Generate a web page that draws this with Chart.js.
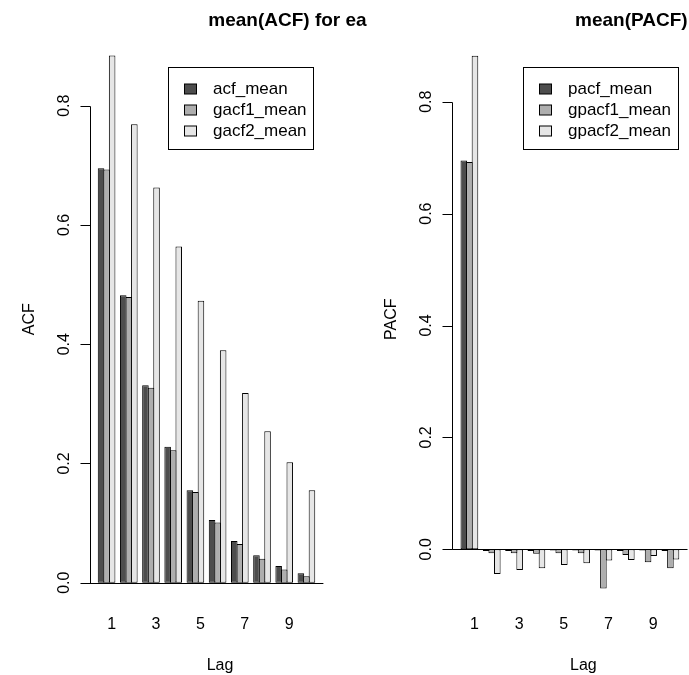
<!DOCTYPE html>
<html>
<head>
<meta charset="utf-8">
<script src="https://cdn.jsdelivr.net/npm/chart.js@4"></script>
<style>
  body { margin: 0; background: #fff; }
  #wrap { position: relative; width: 689px; height: 675px; overflow: hidden; }
  canvas { position: absolute; left: 0; top: 0; }
</style>
</head>
<body>
<div id="wrap">
  <canvas id="acf" width="689" height="675"></canvas>
  <canvas id="pacf" width="689" height="675"></canvas>
</div>
<script>
// lags e rótulos
const lags = [1, 2, 3, 4, 5, 6, 7, 8, 9, 10];
const lagTicks = [1, 3, 5, 7, 9];
const yTicks = [0, 0.2, 0.4, 0.6, 0.8];

// médias da ACF
const acf_mean   = [0.695, 0.482, 0.331, 0.228, 0.155, 0.105, 0.070, 0.046, 0.028, 0.016];
const gacf1_mean = [0.693, 0.479, 0.327, 0.222, 0.152, 0.101, 0.065, 0.040, 0.022, 0.011];
const gacf2_mean = [0.884, 0.769, 0.663, 0.564, 0.473, 0.390, 0.318, 0.254, 0.202, 0.155];

// médias da PACF
const pacf_mean   = [0.695, -0.003, -0.003, -0.003, -0.002, -0.002, -0.002, -0.003, -0.002, -0.003];
const gpacf1_mean = [0.692, -0.007, -0.007, -0.008, -0.007, -0.007, -0.070, -0.010, -0.023, -0.034];
const gpacf2_mean = [0.882, -0.044, -0.037, -0.034, -0.028, -0.025, -0.020, -0.019, -0.012, -0.018];

const cinzas = ['#4D4D4D', '#AEAEAE', '#E6E6E6']; // gray.colors(3) do R
const fonte = '"Liberation Sans", Arial, Helvetica, sans-serif';

// barplot do R: 3 barras de largura 1 + espaço 1 por lag
const centroGrupo = lag => 4 * lag - 1.5;
const posRotulo = lag => 4 * lag - 0.6;

// desenha eixos, títulos e legenda no estilo do R
const estiloR = {
  id: 'estiloR',
  afterDraw(chart, args, opts) {
    const ctx = chart.ctx;
    const area = chart.chartArea;
    const x = chart.scales.x, y = chart.scales.y;
    ctx.save();
    ctx.strokeStyle = '#000';
    ctx.fillStyle = '#000';
    ctx.lineWidth = 1;

    // abline(h = 0)
    const y0 = Math.round(y.getPixelForValue(0)) + 0.5;
    ctx.beginPath();
    ctx.moveTo(area.left, y0);
    ctx.lineTo(area.right, y0);
    ctx.stroke();

    // eixo y
    const ax = Math.round(area.left) + 0.5;
    ctx.beginPath();
    ctx.moveTo(ax, Math.round(y.getPixelForValue(yTicks[0])) + 0.5);
    ctx.lineTo(ax, Math.round(y.getPixelForValue(yTicks[yTicks.length - 1])) + 0.5);
    yTicks.forEach(v => {
      const py = Math.round(y.getPixelForValue(v)) + 0.5;
      ctx.moveTo(ax, py);
      ctx.lineTo(ax - 10, py);
    });
    ctx.stroke();

    ctx.font = '16px ' + fonte;
    ctx.textAlign = 'center';
    ctx.textBaseline = 'alphabetic';
    yTicks.forEach(v => {
      ctx.save();
      ctx.translate(area.left - 21, y.getPixelForValue(v));
      ctx.rotate(-Math.PI / 2);
      ctx.fillText(v.toFixed(1), 0, 0);
      ctx.restore();
    });

    // rótulos do eixo x
    lagTicks.forEach(l => {
      ctx.fillText(String(l), x.getPixelForValue(posRotulo(l)), area.bottom + 25);
    });
    ctx.fillText('Lag', (area.left + area.right) / 2 + 13.5, area.bottom + 66);

    // ylab
    ctx.save();
    ctx.translate(area.left - 56, (area.top + area.bottom) / 2);
    ctx.rotate(-Math.PI / 2);
    ctx.fillText(opts.ylab, 0, 0);
    ctx.restore();

    // título (cortado na borda da figura)
    ctx.save();
    ctx.beginPath();
    ctx.rect(0, 0, opts.corte, chart.height);
    ctx.clip();
    ctx.font = 'bold 19px ' + fonte;
    ctx.textAlign = 'left';
    ctx.fillText(opts.titulo, area.left + opts.tituloDx, 26);
    ctx.restore();

    // legenda
    ctx.font = '17px ' + fonte;
    const ds = chart.data.datasets;
    const tw = Math.max(...ds.map(d => ctx.measureText(d.label).width));
    const bw = Math.round(44.5 + tw + 7);
    const bh = 82;
    const bx = Math.round(area.right - 10 - bw) + 0.5;
    const by = Math.round(area.top + 32) + 0.5;
    ctx.strokeRect(bx, by, bw, bh);
    ctx.textAlign = 'left';
    ctx.textBaseline = 'middle';
    ds.forEach((d, i) => {
      const cy = Math.round(by + 21 + 21 * i);
      ctx.fillStyle = d.backgroundColor;
      ctx.fillRect(bx + 16, cy - 5, 12, 10);
      ctx.strokeRect(bx + 16, cy - 5, 12, 10);
      ctx.fillStyle = '#000';
      ctx.fillText(d.label, bx + 44.5, cy);
    });
    ctx.restore();
  }
};

function serie(label, valores, cor) {
  return {
    label: label,
    data: valores.map((v, i) => ({ x: centroGrupo(lags[i]), y: v })),
    backgroundColor: cor,
    borderColor: '#000',
    borderWidth: 1,
    borderSkipped: false,
    categoryPercentage: 0.75,
    barPercentage: 1.18 // contorno do R fica meio pixel para fora
  };
}

function grafico(id, datasets, yMin, yMax, padding, extra) {
  return new Chart(document.getElementById(id), {
    type: 'bar',
    data: { datasets: datasets },
    options: {
      responsive: false,
      animation: false,
      devicePixelRatio: 1,
      layout: { padding: padding },
      scales: {
        x: {
          type: 'linear',
          display: false,
          offset: false,
          min: -0.56,
          max: 41.56,
          afterBuildTicks: s => { s.ticks = lagTicks.map(l => ({ value: posRotulo(l) })); }
        },
        y: {
          type: 'linear',
          display: false,
          min: yMin,
          max: yMax,
          afterBuildTicks: s => { s.ticks = yTicks.map(v => ({ value: v })); }
        }
      },
      plugins: {
        legend: { display: false },
        tooltip: { enabled: false },
        estiloR: extra
      }
    },
    plugins: [estiloR]
  });
}

grafico('acf', [
  serie('acf_mean', acf_mean, cinzas[0]),
  serie('gacf1_mean', gacf1_mean, cinzas[1]),
  serie('gacf2_mean', gacf2_mean, cinzas[2])
], -0.0354, 0.9194,
  { left: 89.6, right: 365.6, top: 34.5, bottom: 71.2 },
  { ylab: 'ACF', titulo: 'mean(ACF) for each', tituloDx: 118.7, corte: 367 });

grafico('pacf', [
  serie('pacf_mean', pacf_mean, cinzas[0]),
  serie('gpacf1_mean', gpacf1_mean, cinzas[1]),
  serie('gpacf2_mean', gpacf2_mean, cinzas[2])
], -0.0974, 0.9201,
  { left: 452.3, right: 1.5, top: 34.5, bottom: 71.2 },
  { ylab: 'PACF', titulo: 'mean(PACF) for each', tituloDx: 122.7, corte: 689 });
</script>
</body>
</html>
